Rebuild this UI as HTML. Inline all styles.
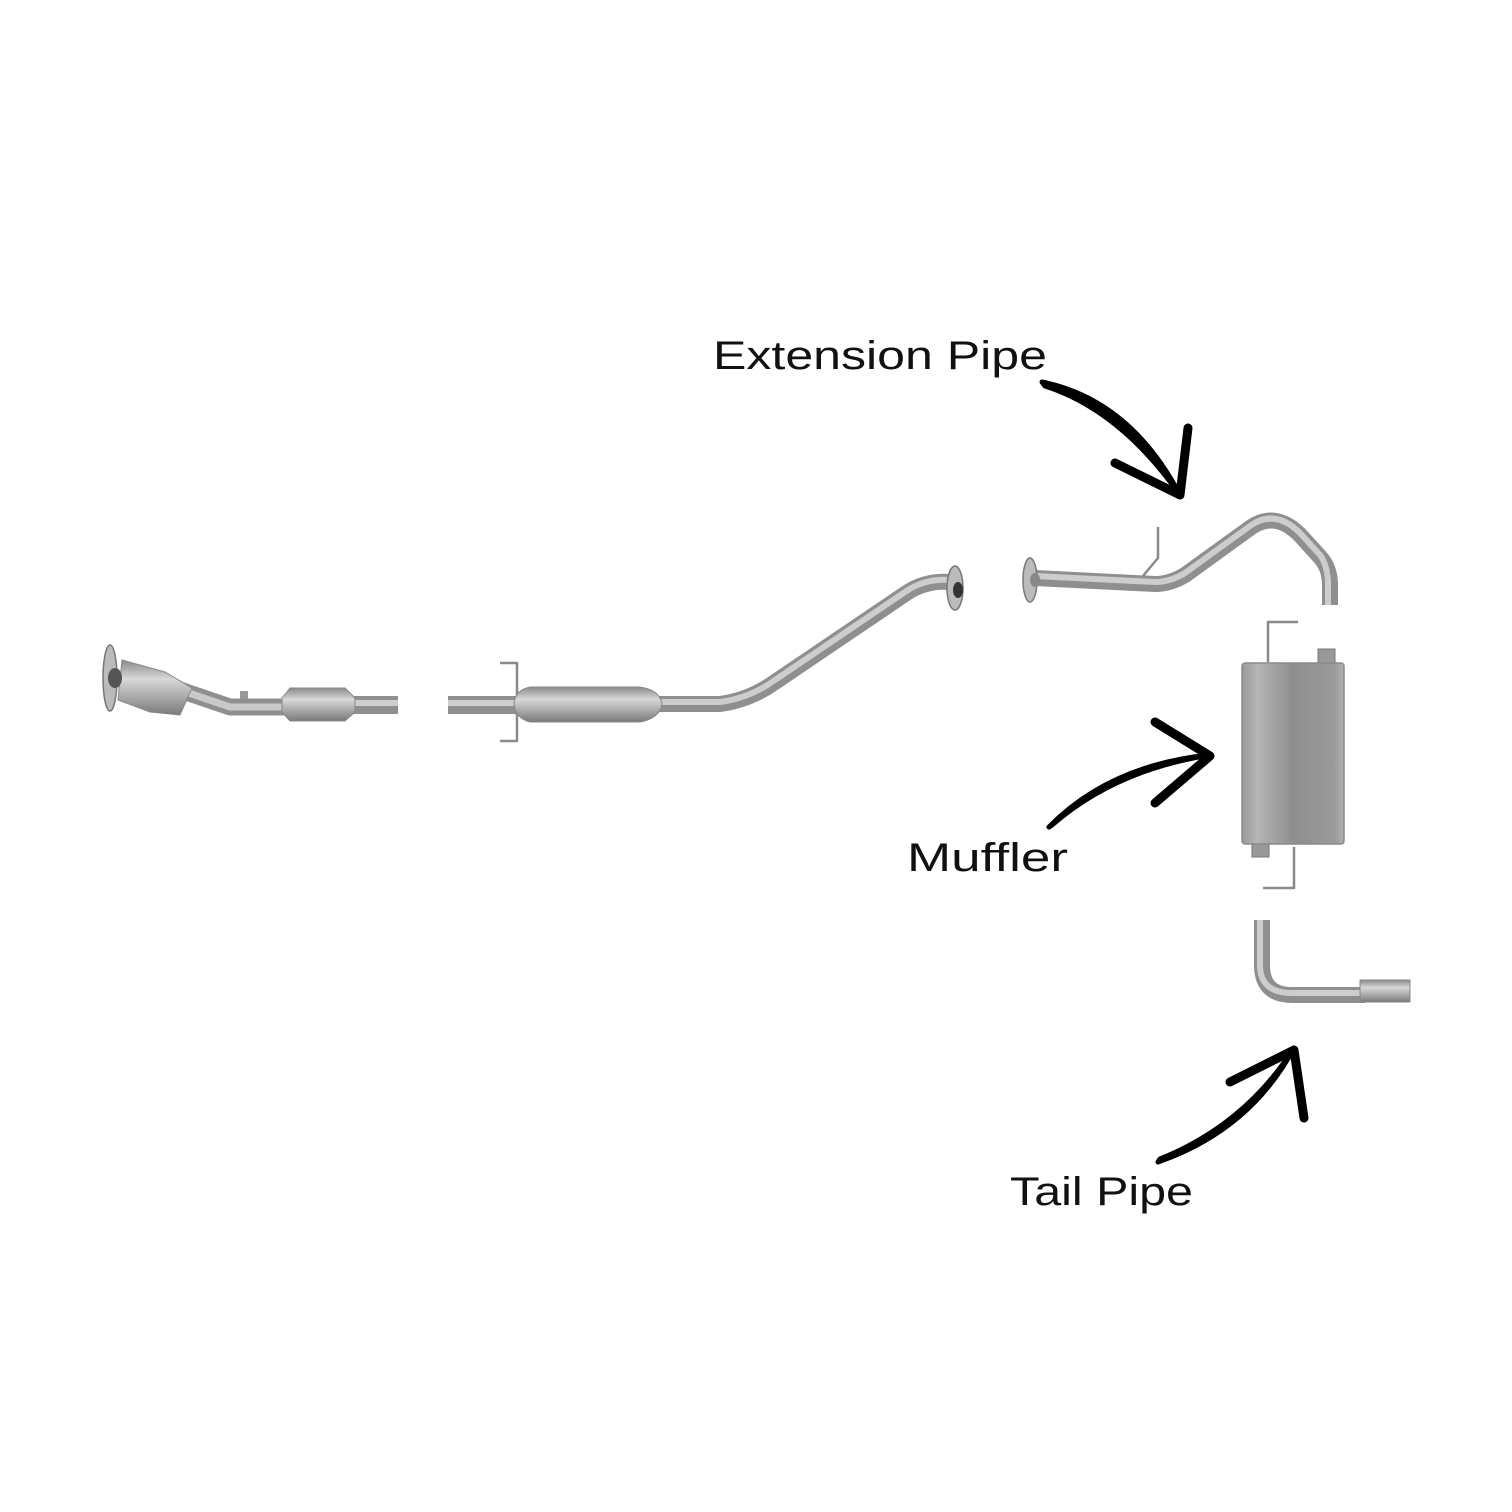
<!DOCTYPE html>
<html><head><meta charset="utf-8"><style>
html,body{margin:0;padding:0;background:#fff;}
svg{display:block}
text{font-family:"Liberation Sans",sans-serif;fill:#111;}
</style></head><body>
<svg width="1512" height="1512" viewBox="0 0 1512 1512" xmlns="http://www.w3.org/2000/svg">
<defs>
<linearGradient id="gv" x1="0" y1="0" x2="0" y2="1">
<stop offset="0" stop-color="#8a8a8a"/><stop offset="0.35" stop-color="#d8d8d8"/><stop offset="0.7" stop-color="#a5a5a5"/><stop offset="1" stop-color="#7a7a7a"/>
</linearGradient>
<linearGradient id="gm" x1="0" y1="0" x2="1" y2="0">
<stop offset="0" stop-color="#9a9a9a"/><stop offset="0.15" stop-color="#b5b5b5"/><stop offset="0.5" stop-color="#8e8e8e"/><stop offset="0.9" stop-color="#9a9a9a"/><stop offset="1" stop-color="#b0b0b0"/>
</linearGradient>
</defs>
<g fill="none" stroke-linecap="butt" stroke-linejoin="round">
<path d="M120 680 L180 690 L230 707 L290 707" stroke="#8f8f8f" stroke-width="17"/>
<path d="M120 680 L180 690 L230 707 L290 707" stroke="#c9c9c9" stroke-width="7"/>
<path d="M350 705 L398 705" stroke="#8f8f8f" stroke-width="18"/>
<path d="M350 703 L398 703" stroke="#cfcfcf" stroke-width="6"/>
<path d="M448 705 L520 705" stroke="#8f8f8f" stroke-width="18"/>
<path d="M448 703 L520 703" stroke="#cfcfcf" stroke-width="6"/>
<path d="M650 704 L720 704 Q750 700 775 682 L905 594 Q925 580 950 582" stroke="#8f8f8f" stroke-width="16"/>
<path d="M650 702 L720 702 Q750 698 775 680 L905 592 Q925 578 950 580" stroke="#cdcdcd" stroke-width="6"/>
<path d="M1035 578 L1155 584 Q1170 584 1185 575 L1250 528 Q1275 510 1300 535 L1320 557 Q1330 568 1330 585 L1330 605" stroke="#8f8f8f" stroke-width="16"/>
<path d="M1035 576 L1155 582 Q1170 582 1185 573 L1250 526 Q1275 508 1300 533 L1320 555 Q1328 566 1328 585 L1328 605" stroke="#cdcdcd" stroke-width="6"/>
<path d="M1262 920 L1262 965 Q1262 995 1292 995 L1365 995" stroke="#8f8f8f" stroke-width="16"/>
<path d="M1260 920 L1260 965 Q1260 993 1292 993 L1365 993" stroke="#cdcdcd" stroke-width="6"/>
<path d="M500 663 L517 663 L517 741 L500 741" stroke="#8a8a8a" stroke-width="2.5"/>
<path d="M1158 527 L1158 558 L1143 576" stroke="#8a8a8a" stroke-width="2.5"/>
<path d="M1298 622 L1268 622 L1268 662" stroke="#8a8a8a" stroke-width="2.5"/>
<path d="M1263 888 L1294 888 L1294 847" stroke="#8a8a8a" stroke-width="2.5"/>
</g>
<path d="M122 660 L165 672 L192 688 L180 715 L150 712 L118 700 Z" fill="url(#gv)" stroke="#888" stroke-width="1"/>
<ellipse cx="110" cy="678" rx="7" ry="33" fill="#bbb" stroke="#777" stroke-width="1.5"/>
<ellipse cx="115" cy="678" rx="7" ry="10" fill="#555"/>
<rect x="240" y="691" width="8" height="8" fill="#999"/>
<path d="M290 688 L345 688 L355 698 L355 712 L345 721 L290 721 L282 712 L282 698 Z" fill="url(#gv)" stroke="#888"/>
<path d="M530 687 L640 687 Q660 690 662 704 Q660 718 640 722 L530 722 Q515 718 514 704 Q515 690 530 687 Z" fill="url(#gv)" stroke="#888"/>
<ellipse cx="955" cy="588" rx="8" ry="22" fill="#bbb" stroke="#777" stroke-width="1.5"/>
<ellipse cx="958" cy="590" rx="5" ry="8" fill="#333"/>
<ellipse cx="1030" cy="580" rx="7" ry="22" fill="#bbb" stroke="#777" stroke-width="1.5"/>
<ellipse cx="1035" cy="580" rx="5" ry="7" fill="#888"/>
<rect x="1318" y="649" width="17" height="16" fill="#999" stroke="#777"/>
<rect x="1252" y="842" width="17" height="15" fill="#999" stroke="#777"/>
<rect x="1242" y="663" width="102" height="181" rx="3" fill="url(#gm)" stroke="#8a8a8a" stroke-width="1.5"/>
<rect x="1360" y="980" width="50" height="22" fill="url(#gv)" stroke="#888"/>
<g fill="#000" stroke="#000" stroke-linejoin="round" stroke-linecap="round">
<path d="M1042 382 Q1130 400 1180 495 Q1120 410 1045 386 Z" stroke-width="5"/>
<path d="M1115 463 L1180 495 L1188 428" fill="none" stroke-width="9"/>
<path d="M1049 827 Q1110 765 1210 755 Q1115 770 1052 825 Z" stroke-width="5"/>
<path d="M1155 722 L1210 756 L1155 803" fill="none" stroke-width="9"/>
<path d="M1158 1162 Q1250 1130 1294 1048 Q1245 1125 1160 1159 Z" stroke-width="5"/>
<path d="M1230 1082 L1294 1050 L1304 1118" fill="none" stroke-width="9"/>
</g>
<text x="713" y="369" font-size="40" textLength="334" lengthAdjust="spacingAndGlyphs">Extension Pipe</text>
<text x="907" y="871" font-size="40" textLength="161" lengthAdjust="spacingAndGlyphs">Muffler</text>
<text x="1010" y="1205" font-size="40" textLength="183" lengthAdjust="spacingAndGlyphs">Tail Pipe</text>
</svg>
</body></html>
